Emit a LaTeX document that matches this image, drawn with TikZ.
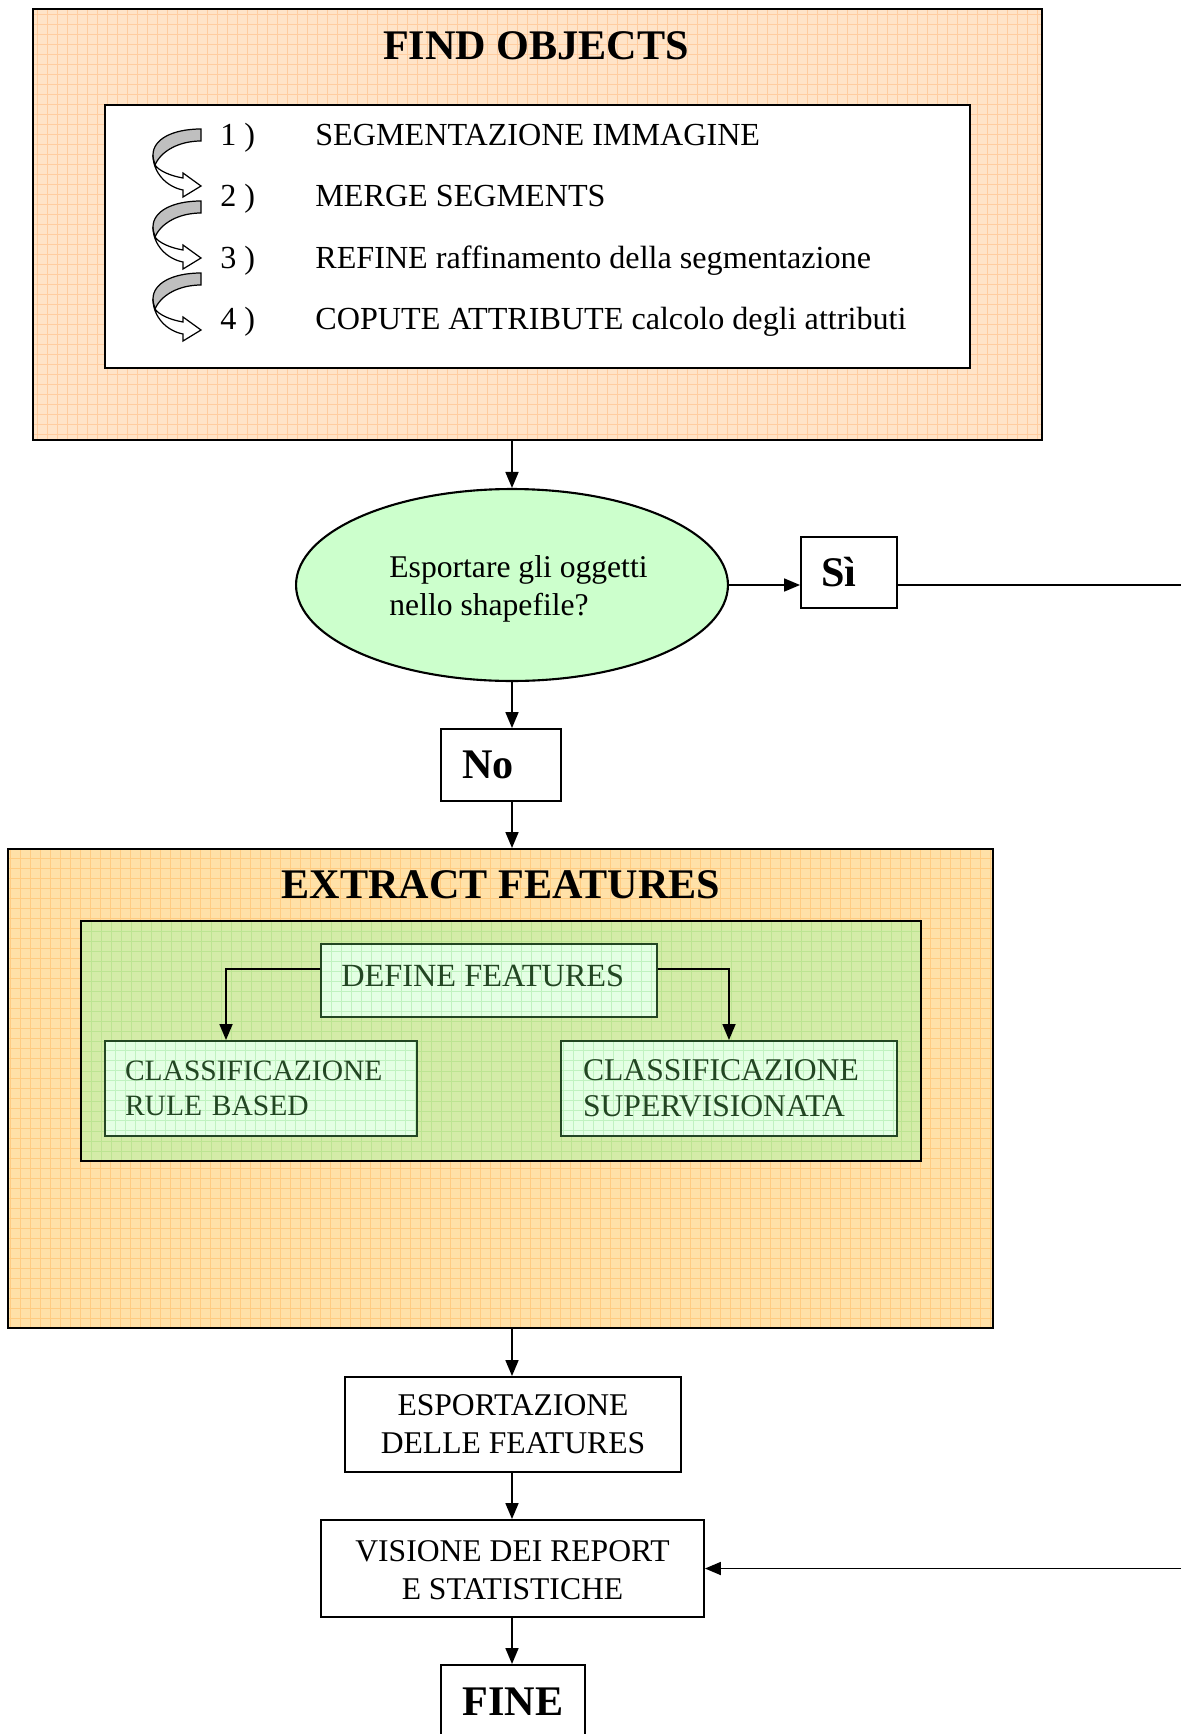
\documentclass[tikz,border=0pt]{standalone}
\usepackage{fontspec}
\setmainfont{Liberation Serif}
\usetikzlibrary{arrows.meta,shapes.geometric}

\definecolor{peachfill}{RGB}{255,228,200}
\definecolor{peachgrid}{RGB}{255,205,160}
\definecolor{orangefill}{RGB}{255,225,168}
\definecolor{orangegrid}{RGB}{255,204,130}
\definecolor{olivefill}{RGB}{212,236,168}
\definecolor{olivegrid}{RGB}{188,228,146}
\definecolor{mintfill}{RGB}{228,255,228}
\definecolor{mintgrid}{RGB}{192,242,192}
\definecolor{ellfill}{RGB}{204,255,204}
\definecolor{darkgreen}{RGB}{35,70,35}

\tikzset{
  gridded/.style={path picture={
      \draw[#1, line width=0.45pt, step=0.2cm]
        (path picture bounding box.south west) grid (path picture bounding box.north east);}},
  panel/.style={draw=black, line width=1.2pt, inner sep=0pt},
  plainbox/.style={draw=black, line width=1.1pt, fill=white, inner sep=0pt,
      font=\fontsize{18}{21.6}\selectfont, align=center},
  greenbox/.style={draw=darkgreen, line width=1.1pt, fill=mintfill, gridded=mintgrid,
      inner sep=0pt, text=darkgreen, font=\fontsize{18}{20.5}\selectfont},
  bigtitle/.style={font=\fontsize{24}{28}\selectfont\bfseries, inner sep=0pt},
  listtxt/.style={font=\fontsize{18.3}{22}\selectfont, inner sep=0pt, anchor=base west},
  conn/.style={line width=1pt, -{Triangle[length=0.32cm,width=0.26cm]}},
  plainline/.style={line width=1pt},
  curlarrow/.pic={
    \filldraw[fill=black!25, draw=black, line width=0.7pt]
      (0,0) .. controls (-28,0) and (-48,10) .. (-48,26)
      .. controls (-48,30) and (-47,33) .. (-46,36)
      .. controls (-40,22) and (-22,12) .. (0,12) -- cycle;
    \filldraw[fill=white, draw=black, line width=0.7pt]
      (-48,26) .. controls (-48,44) and (-34,58) .. (-18,61)
      -- (-18,68) -- (0,57) -- (-18,44) -- (-18,49)
      .. controls (-30,47) and (-42,42) .. (-46,36)
      .. controls (-47,33) and (-48,30) .. (-48,26) -- cycle;
  }
}

\begin{document}
\begin{tikzpicture}[x=0.02cm, y=-0.02cm]
\useasboundingbox (0,0) rectangle (1181,1734);
\clip (0,0) rectangle (1181,1734);

% ---------- FIND OBJECTS ----------
\node[panel, fill=peachfill, gridded=peachgrid, minimum width=20.18cm, minimum height=8.62cm]
  (findbox) at (537.5,224.5) {};
\node[bigtitle] (findtitle) at (536,46) {FIND OBJECTS};
\node[draw=black, line width=1.1pt, fill=white, minimum width=17.3cm, minimum height=5.26cm]
  (findlist) at (537.5,236.5) {};

\pic at (201,129) {curlarrow};
\pic at (201,201) {curlarrow};
\pic at (201,273) {curlarrow};

\node[listtxt] (n1) at (220,145.5) {1 )};
\node[listtxt] (n2) at (220,206.5) {2 )};
\node[listtxt] (n3) at (220,268.5) {3 )};
\node[listtxt] (n4) at (220,329.5) {4 )};
\node[listtxt] (s1) at (315,145.5) {SEGMENTAZIONE IMMAGINE};
\node[listtxt] (s2) at (315,206.5) {MERGE SEGMENTS};
\node[listtxt] (s3) at (315,268.5) {REFINE raffinamento della segmentazione};
\node[listtxt] (s4) at (315,329.5) {COPUTE ATTRIBUTE calcolo degli attributi};

% ---------- decision ----------
\node[ellipse, draw=black, line width=1.2pt, fill=ellfill, inner sep=0pt,
      minimum width=8.64cm, minimum height=3.84cm,
      font=\fontsize{18}{21.6}\selectfont]
  (decision) at (512,585)
  {\hspace*{0.26cm}\raisebox{-0.07cm}[\height][\depth]{\begin{tabular}{@{}l@{}}Esportare gli oggetti\\nello shapefile?\end{tabular}}};

\node[plainbox, minimum width=1.92cm, minimum height=1.42cm,
      font=\fontsize{24}{28}\selectfont\bfseries]
  (si) at (849,572.5) {Sì\hspace{0.4cm}};
\node[plainbox, minimum width=2.4cm, minimum height=1.44cm,
      font=\fontsize{24}{28}\selectfont\bfseries]
  (no) at (501,765) {No\hspace{0.52cm}};

\coordinate (rightout) at (1181,585);
\coordinate (rightin) at (1181,1568.5);

% ---------- EXTRACT FEATURES ----------
\node[panel, fill=orangefill, gridded=orangegrid, minimum width=19.7cm, minimum height=9.58cm]
  (extract) at (500.5,1088.5) {};
\node[bigtitle] (extracttitle) at (501,885) {EXTRACT FEATURES};
\node[draw=black, line width=1.1pt, fill=olivefill, gridded=olivegrid,
      minimum width=16.8cm, minimum height=4.8cm]
  (greenpanel) at (501,1041) {};

\node[greenbox, minimum width=6.72cm, minimum height=1.46cm,
      font=\fontsize{18.4}{21}\selectfont]
  (define) at (489,980.5)
  {\raisebox{0.09cm}[\height][\depth]{DEFINE FEATURES}\kern0.25cm};
\node[greenbox, minimum width=6.24cm, minimum height=1.9cm, align=left,
      text width=5.44cm, font=\fontsize{16.8}{20}\selectfont]
  (rule) at (261,1088.5) {CLASSIFICAZIONE\\RULE BASED};
\node[greenbox, minimum width=6.72cm, minimum height=1.9cm, align=left,
      text width=5.84cm]
  (super) at (729,1088.5) {CLASSIFICAZIONE\\SUPERVISIONATA};

% ---------- output ----------
\node[plainbox, minimum width=6.72cm, minimum height=1.9cm]
  (esport) at (513,1424.5) {ESPORTAZIONE\\DELLE FEATURES};
\node[plainbox, minimum width=7.66cm, minimum height=1.94cm]
  (visione) at (512.5,1568.5) {\raisebox{-0.09cm}[\height][\depth]{\begin{tabular}{@{}c@{}}VISIONE DEI REPORT\\E STATISTICHE\end{tabular}}};
\node[plainbox, minimum width=2.88cm, minimum height=1.48cm, anchor=north,
      font=\fontsize{24}{28}\selectfont\bfseries]
  (fine) at (513,1664) {FINE};

% ---------- connectors ----------
\draw[conn] (findbox.south -| decision.north) -- (decision.north);
\draw[conn] (decision.east) -- (decision.east -| si.west);
\draw[plainline] (decision.east -| si.east) -- (rightout);
\draw[conn] (decision.south) -- (decision.south |- no.north);
\draw[conn] (decision.south |- no.south) -- (decision.south |- extract.north);
\draw[conn] ([yshift=0.23cm]define.west) -| ([xshift=-0.7cm]rule.north);
\draw[conn] ([yshift=0.23cm]define.east) -| (super.north);
\draw[conn] (decision.south |- extract.south) -- (decision.south |- esport.north);
\draw[conn] (decision.south |- esport.south) -- (decision.south |- visione.north);
\draw[conn] (decision.south |- visione.south) -- (decision.south |- fine.north);
\draw[conn] (rightin) -- (visione.east);
\end{tikzpicture}
\end{document}
